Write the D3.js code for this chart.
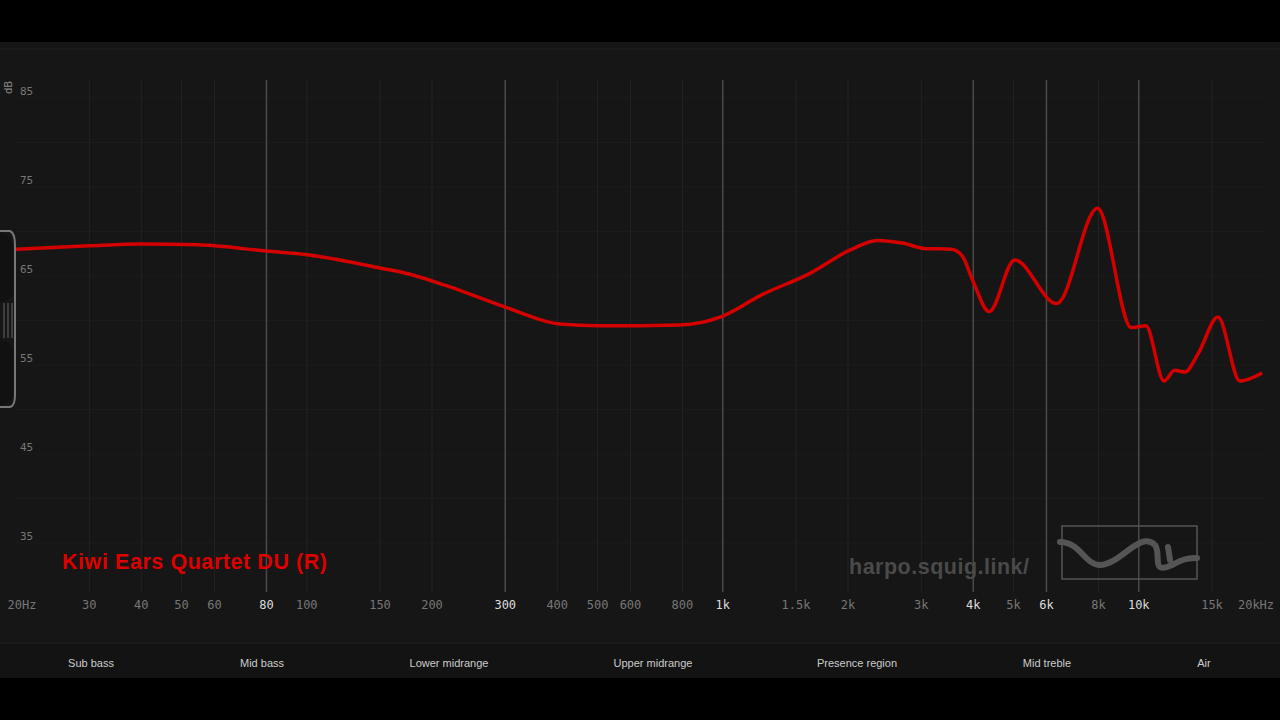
<!DOCTYPE html>
<html><head><meta charset="utf-8">
<script src="https://cdn.jsdelivr.net/npm/d3@7"></script>
<style>body{margin:0;background:#000;overflow:hidden}</style>
</head><body><svg id="c" width="1280" height="720"></svg>
<script>
// frequency response (Hz, dB)
const freqs = [20, 30, 40, 55, 80, 100, 150, 177, 220, 300, 405, 506, 787, 1000, 1230, 1620, 2020, 2350, 2700, 3050, 3550, 3770, 3980, 4370, 5030, 6350, 7960, 9600, 10400, 11500, 12200, 12900, 13900, 15500, 17500, 19800];
const spl   = [68.0, 68.4, 68.6, 68.5, 67.8, 67.4, 65.9, 65.2, 63.8, 61.5, 59.6, 59.4, 59.5, 60.5, 62.8, 65.3, 67.9, 69.0, 68.7, 68.1, 68.0, 67.2, 64.6, 61.0, 66.8, 61.9, 72.6, 59.2, 59.4, 53.2, 54.4, 54.2, 56.3, 60.4, 53.2, 54.1];
const xTicks = [20, 30, 40, 50, 60, 80, 100, 150, 200, 300, 400, 500, 600, 800, 1000, 1500, 2000, 3000, 4000, 5000, 6000, 8000, 10000, 15000, 20000];
const xLabels = ["20Hz","30","40","50","60","80","100","150","200","300","400","500","600","800","1k","1.5k","2k","3k","4k","5k","6k","8k","10k","15k","20kHz"];
const majorTicks = [80, 300, 1000, 4000, 6000, 10000];
const yTicks = [85, 75, 65, 55, 45, 35];
const regions = ["Sub bass","Mid bass","Lower midrange","Upper midrange","Presence region","Mid treble","Air"];
const regionX = [91, 262, 449, 653, 857, 1047, 1204];
const title = "Kiwi Ears Quartet DU (R)";

const svg = d3.select('#c');
const x = d3.scaleLog().domain([20, 20000]).range([16, 1264]);
const y = d3.scaleLinear().domain([35, 85]).range([543, 98]);

svg.append('rect').attr('x',0).attr('y',42).attr('width',1280).attr('height',636).attr('fill','#161616');
svg.append('line').attr('x1',0).attr('x2',1280).attr('y1',49).attr('y2',49).attr('stroke','#1e1e1e');
svg.append('rect').attr('x',0).attr('y',643).attr('width',1280).attr('height',35).attr('fill','#131313');
svg.append('line').attr('x1',0).attr('x2',1280).attr('y1',643).attr('y2',643).attr('stroke','#1f1f1f');

// horizontal grid every 5 dB
const hg = d3.range(35, 86, 5);
svg.append('g').selectAll('line').data(hg).join('line')
  .attr('x1', 16).attr('x2', 1264).attr('y1', d => y(d)).attr('y2', d => y(d))
  .attr('stroke', '#1b1b1b');

// vertical grid
svg.append('g').selectAll('line').data(xTicks.slice(1, -1)).join('line')
  .attr('x1', d => x(d)).attr('x2', d => x(d)).attr('y1', 80).attr('y2', 592)
  .attr('stroke', d => majorTicks.includes(d) ? '#4a4a4a' : '#232323')
  .attr('stroke-width', d => majorTicks.includes(d) ? 1.5 : 1);

svg.append('g').selectAll('text').data(xTicks).join('text')
  .attr('x', (d, i) => i === 0 ? 22 : (i === xTicks.length - 1 ? 1256 : x(d)))
  .attr('y', 609).attr('text-anchor', 'middle')
  .attr('font-family', 'DejaVu Sans Mono').attr('font-size', 12)
  .attr('fill', d => majorTicks.includes(d) ? '#ddd' : '#777')
  .text((d, i) => xLabels[i]);

svg.append('g').selectAll('text').data(yTicks).join('text')
  .attr('x', 20).attr('y', d => y(d) - 3)
  .attr('font-family', 'DejaVu Sans Mono').attr('font-size', 11).attr('fill', '#777')
  .text(d => d);
svg.append('text').attr('transform', 'translate(12,94) rotate(-90)')
  .attr('font-family', 'DejaVu Sans').attr('font-size', 10).attr('fill', '#888').text('dB');

// left scroll handle
svg.append('path').attr('d', 'M0,231 L10,231 Q15,233 15,245 L15,395 Q15,406 10,407 L0,407')
  .attr('fill', 'none').attr('stroke', '#777').attr('stroke-width', 2);
svg.append('path').attr('d', 'M0,232 Q13,236 13,250 L13,290 Q13,300 0,302 Z M0,340 Q13,342 13,352 L13,392 Q13,404 0,406 Z')
  .attr('fill', '#111');
[4, 8, 12].forEach(d => svg.append('line').attr('x1', d).attr('x2', d).attr('y1', 303).attr('y2', 338).attr('stroke', '#666'));

// labels
svg.append('text').attr('x', 62).attr('y', 569).attr('font-family', 'Liberation Sans').attr('font-weight', 'bold')
  .attr('font-size', 21.5).attr('fill', '#dd0000').attr('textLength', 265).text(title);
svg.append('text').attr('x', 849).attr('y', 574).attr('font-family', 'Liberation Sans').attr('font-weight', 'bold')
  .attr('font-size', 21.5).attr('fill', '#4a4a4a').attr('textLength', 180).text('harpo.squig.link/');
svg.append('rect').attr('x', 1062).attr('y', 526).attr('width', 135).attr('height', 53)
  .attr('fill', 'none').attr('stroke', '#555').attr('stroke-width', 1.5);
svg.append('path').attr('d', 'M1060,542 C1080,542 1085,565 1100,565 C1120,565 1140,530 1155,545 C1162,555 1150,575 1172,565 C1185,558 1190,558 1197,558 M1170,560 L1168,547')
  .attr('fill', 'none').attr('stroke', '#555').attr('stroke-width', 6).attr('stroke-linecap', 'round');

svg.append('g').selectAll('text').data(regions).join('text')
  .attr('x', (d, i) => regionX[i]).attr('y', 667).attr('text-anchor', 'middle')
  .attr('font-family', 'Liberation Sans Narrow, Liberation Sans').attr('font-size', 11).attr('fill', '#ccc')
  .text(d => d);

// curve
const pts = freqs.map((f, i) => [f, spl[i]]);
svg.append('path').datum(pts)
  .attr('d', d3.line().x(d => x(d[0])).y(d => y(d[1])).curve(d3.curveMonotoneX))
  .attr('fill', 'none').attr('stroke', '#d40000').attr('stroke-width', 3.5);
</script></body></html>
